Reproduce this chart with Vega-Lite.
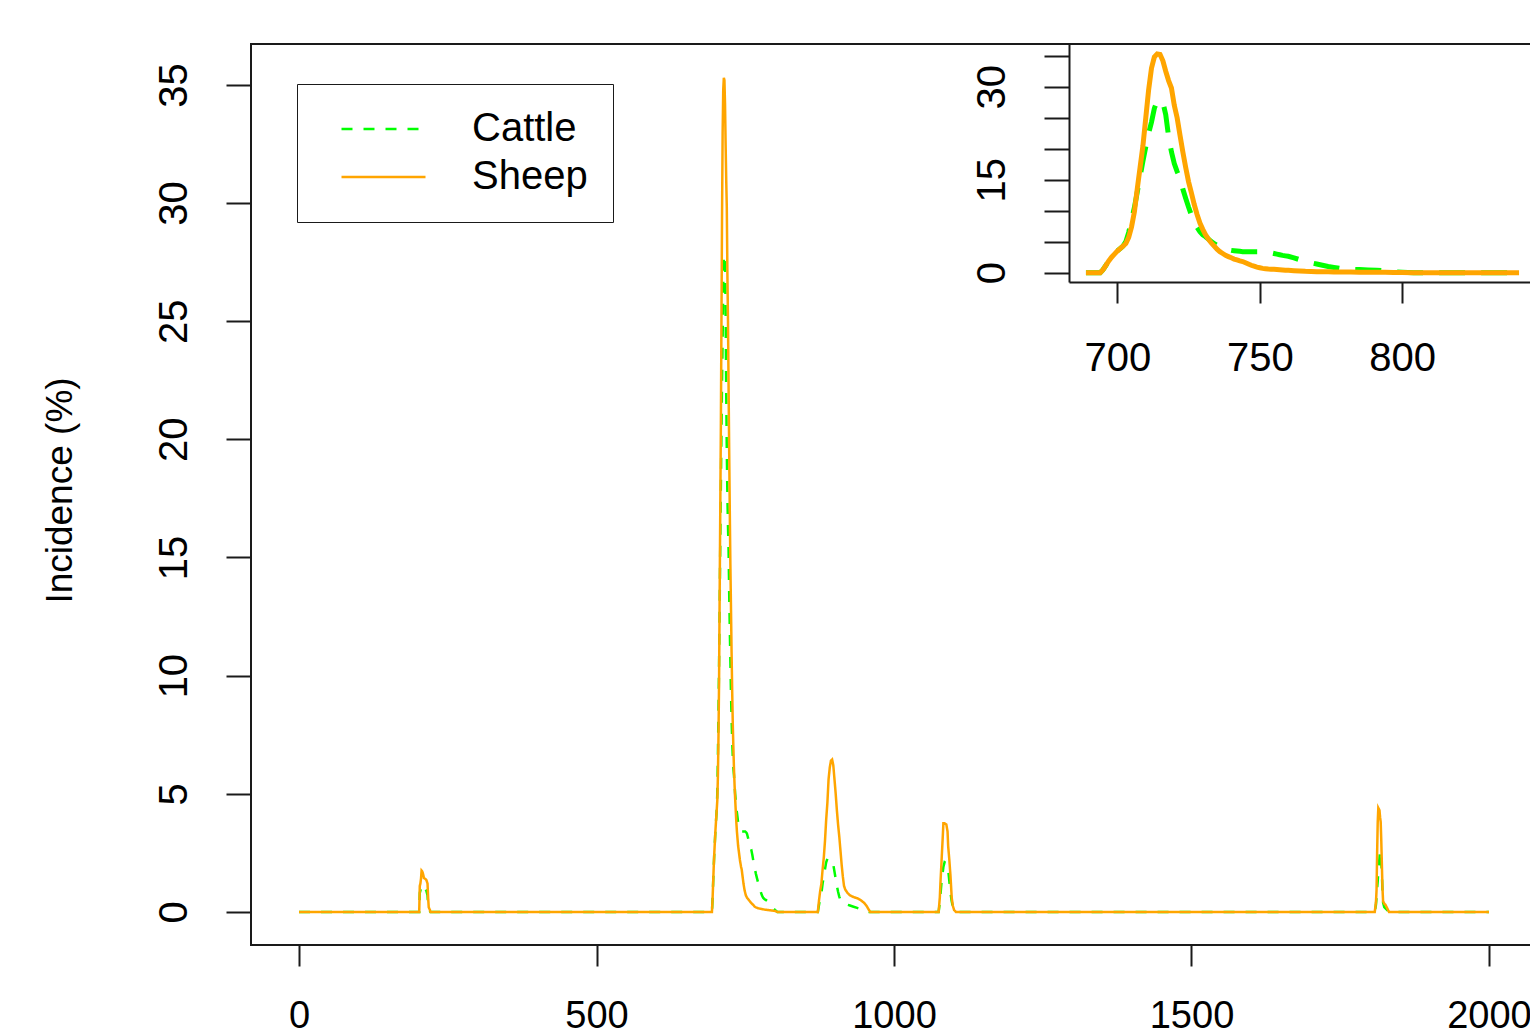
{
  "$schema": "https://vega.github.io/schema/vega-lite/v6.json",
  "width": 1286,
  "height": 901,
  "autosize": {"type": "none"},
  "padding": {"left": 251, "top": 44, "right": 0, "bottom": 88},
  "background": "white",
  "config": {
    "view": {"stroke": "#1a1a1a", "strokeWidth": 2},
    "font": "Liberation Sans",
    "axis": {"labelFont": "Liberation Sans", "titleFont": "Liberation Sans", "labelColor": "black", "titleColor": "black", "tickColor": "#1a1a1a", "tickWidth": 2, "grid": false, "domainColor": "#1a1a1a", "domainWidth": 2, "labelFontSize": 40, "labelOverlap": false, "labelFlush": false},
    "legend": {"labelFont": "Liberation Sans", "titleFont": "Liberation Sans"}
  },
  "data": {"values": [
    {"day": 0, "Cattle": 0, "Sheep": 0},
    {"day": 202, "Cattle": 0, "Sheep": 0},
    {"day": 203, "Cattle": 0.8, "Sheep": 1.1},
    {"day": 204, "Cattle": 0.9, "Sheep": 1.2},
    {"day": 205, "Cattle": 1.0, "Sheep": 1.4},
    {"day": 206, "Cattle": 1.15, "Sheep": 1.75},
    {"day": 207, "Cattle": 1.12, "Sheep": 1.72},
    {"day": 208, "Cattle": 1.1, "Sheep": 1.65},
    {"day": 209, "Cattle": 1.05, "Sheep": 1.55},
    {"day": 210, "Cattle": 1.0, "Sheep": 1.43},
    {"day": 212, "Cattle": 0.95, "Sheep": 1.4},
    {"day": 214, "Cattle": 0.9, "Sheep": 1.35},
    {"day": 216, "Cattle": 0.7, "Sheep": 1.2},
    {"day": 217, "Cattle": 0.3, "Sheep": 0.6},
    {"day": 218, "Cattle": 0.1, "Sheep": 0.2},
    {"day": 220, "Cattle": 0.03, "Sheep": 0.08},
    {"day": 221, "Cattle": 0, "Sheep": 0},
    {"day": 689, "Cattle": 0, "Sheep": 0},
    {"day": 694, "Cattle": 0, "Sheep": 0},
    {"day": 695, "Cattle": 0.5, "Sheep": 0.5},
    {"day": 696, "Cattle": 1.2, "Sheep": 1.2},
    {"day": 697, "Cattle": 1.9, "Sheep": 1.9},
    {"day": 698, "Cattle": 2.5, "Sheep": 2.5},
    {"day": 699, "Cattle": 3.0, "Sheep": 3.0},
    {"day": 700, "Cattle": 3.5, "Sheep": 3.5},
    {"day": 701, "Cattle": 3.9, "Sheep": 3.9},
    {"day": 702, "Cattle": 4.3, "Sheep": 4.3},
    {"day": 703, "Cattle": 5.0, "Sheep": 4.7},
    {"day": 704, "Cattle": 6.5, "Sheep": 5.7},
    {"day": 705, "Cattle": 8.5, "Sheep": 7.4},
    {"day": 706, "Cattle": 10.5, "Sheep": 9.8},
    {"day": 707, "Cattle": 13.0, "Sheep": 13.5},
    {"day": 708, "Cattle": 15.5, "Sheep": 17.0},
    {"day": 709, "Cattle": 18.0, "Sheep": 20.5},
    {"day": 710, "Cattle": 20.3, "Sheep": 25.0},
    {"day": 711, "Cattle": 22.5, "Sheep": 29.5},
    {"day": 712, "Cattle": 24.3, "Sheep": 33.0},
    {"day": 713, "Cattle": 26.5, "Sheep": 34.8},
    {"day": 714, "Cattle": 27.7, "Sheep": 35.3},
    {"day": 715, "Cattle": 27.8, "Sheep": 35.2},
    {"day": 716, "Cattle": 27.5, "Sheep": 34.2},
    {"day": 717, "Cattle": 25.5, "Sheep": 32.5},
    {"day": 718, "Cattle": 22.0, "Sheep": 31.0},
    {"day": 719, "Cattle": 19.5, "Sheep": 29.8},
    {"day": 720, "Cattle": 17.6, "Sheep": 27.0},
    {"day": 721, "Cattle": 16.3, "Sheep": 25.0},
    {"day": 722, "Cattle": 15.3, "Sheep": 22.2},
    {"day": 723, "Cattle": 13.5, "Sheep": 19.5},
    {"day": 724, "Cattle": 12.0, "Sheep": 17.0},
    {"day": 725, "Cattle": 10.6, "Sheep": 14.7},
    {"day": 726, "Cattle": 9.3, "Sheep": 12.9},
    {"day": 727, "Cattle": 8.2, "Sheep": 11.0},
    {"day": 728, "Cattle": 7.3, "Sheep": 9.4},
    {"day": 729, "Cattle": 6.6, "Sheep": 8.0},
    {"day": 730, "Cattle": 6.1, "Sheep": 7.0},
    {"day": 731, "Cattle": 5.8, "Sheep": 6.1},
    {"day": 732, "Cattle": 5.4, "Sheep": 5.4},
    {"day": 733, "Cattle": 5.0, "Sheep": 4.8},
    {"day": 734, "Cattle": 4.7, "Sheep": 4.3},
    {"day": 735, "Cattle": 4.4, "Sheep": 3.8},
    {"day": 736, "Cattle": 4.2, "Sheep": 3.4},
    {"day": 737, "Cattle": 4.0, "Sheep": 3.1},
    {"day": 738, "Cattle": 3.8, "Sheep": 2.8},
    {"day": 739, "Cattle": 3.7, "Sheep": 2.6},
    {"day": 740, "Cattle": 3.6, "Sheep": 2.4},
    {"day": 741, "Cattle": 3.55, "Sheep": 2.2},
    {"day": 742, "Cattle": 3.5, "Sheep": 2.05},
    {"day": 743, "Cattle": 3.45, "Sheep": 1.9},
    {"day": 744, "Cattle": 3.4, "Sheep": 1.8},
    {"day": 745, "Cattle": 3.4, "Sheep": 1.6},
    {"day": 746, "Cattle": 3.4, "Sheep": 1.4},
    {"day": 747, "Cattle": 3.4, "Sheep": 1.2},
    {"day": 748, "Cattle": 3.4, "Sheep": 1.05},
    {"day": 749, "Cattle": 3.4, "Sheep": 0.9},
    {"day": 750, "Cattle": 3.4, "Sheep": 0.8},
    {"day": 751, "Cattle": 3.38, "Sheep": 0.7},
    {"day": 752, "Cattle": 3.35, "Sheep": 0.65},
    {"day": 753, "Cattle": 3.3, "Sheep": 0.6},
    {"day": 754, "Cattle": 3.2, "Sheep": 0.57},
    {"day": 755, "Cattle": 3.1, "Sheep": 0.54},
    {"day": 756, "Cattle": 3.0, "Sheep": 0.5},
    {"day": 757, "Cattle": 2.9, "Sheep": 0.47},
    {"day": 758, "Cattle": 2.8, "Sheep": 0.44},
    {"day": 759, "Cattle": 2.72, "Sheep": 0.41},
    {"day": 760, "Cattle": 2.65, "Sheep": 0.38},
    {"day": 762, "Cattle": 2.4, "Sheep": 0.33},
    {"day": 764, "Cattle": 2.1, "Sheep": 0.28},
    {"day": 766, "Cattle": 1.85, "Sheep": 0.22},
    {"day": 768, "Cattle": 1.6, "Sheep": 0.19},
    {"day": 770, "Cattle": 1.4, "Sheep": 0.17},
    {"day": 772, "Cattle": 1.2, "Sheep": 0.15},
    {"day": 774, "Cattle": 1.0, "Sheep": 0.14},
    {"day": 776, "Cattle": 0.85, "Sheep": 0.13},
    {"day": 778, "Cattle": 0.7, "Sheep": 0.12},
    {"day": 780, "Cattle": 0.6, "Sheep": 0.11},
    {"day": 782, "Cattle": 0.55, "Sheep": 0.1},
    {"day": 785, "Cattle": 0.5, "Sheep": 0.09},
    {"day": 788, "Cattle": 0.45, "Sheep": 0.08},
    {"day": 791, "Cattle": 0.4, "Sheep": 0.07},
    {"day": 794, "Cattle": 0.3, "Sheep": 0.06},
    {"day": 797, "Cattle": 0.15, "Sheep": 0.05},
    {"day": 800, "Cattle": 0.08, "Sheep": 0.04},
    {"day": 804, "Cattle": 0, "Sheep": 0},
    {"day": 841, "Cattle": 0, "Sheep": 0},
    {"day": 872, "Cattle": 0, "Sheep": 0},
    {"day": 874, "Cattle": 0.3, "Sheep": 0.5},
    {"day": 876, "Cattle": 0.6, "Sheep": 0.9},
    {"day": 878, "Cattle": 0.8, "Sheep": 1.2},
    {"day": 880, "Cattle": 1.2, "Sheep": 1.8},
    {"day": 882, "Cattle": 1.5, "Sheep": 2.3},
    {"day": 884, "Cattle": 1.8, "Sheep": 3.0},
    {"day": 886, "Cattle": 2.1, "Sheep": 3.9},
    {"day": 888, "Cattle": 2.25, "Sheep": 4.6},
    {"day": 890, "Cattle": 2.25, "Sheep": 5.6},
    {"day": 892, "Cattle": 2.2, "Sheep": 6.1},
    {"day": 894, "Cattle": 2.2, "Sheep": 6.4},
    {"day": 896, "Cattle": 2.15, "Sheep": 6.45},
    {"day": 898, "Cattle": 2.0, "Sheep": 6.2},
    {"day": 900, "Cattle": 1.7, "Sheep": 5.6},
    {"day": 902, "Cattle": 1.4, "Sheep": 5.0},
    {"day": 904, "Cattle": 1.1, "Sheep": 4.3},
    {"day": 906, "Cattle": 0.85, "Sheep": 3.7},
    {"day": 908, "Cattle": 0.65, "Sheep": 3.2},
    {"day": 910, "Cattle": 0.5, "Sheep": 2.6},
    {"day": 912, "Cattle": 0.42, "Sheep": 2.0},
    {"day": 914, "Cattle": 0.38, "Sheep": 1.5},
    {"day": 916, "Cattle": 0.35, "Sheep": 1.1},
    {"day": 918, "Cattle": 0.32, "Sheep": 0.95},
    {"day": 922, "Cattle": 0.3, "Sheep": 0.8},
    {"day": 926, "Cattle": 0.27, "Sheep": 0.7},
    {"day": 932, "Cattle": 0.22, "Sheep": 0.63},
    {"day": 938, "Cattle": 0.17, "Sheep": 0.58},
    {"day": 944, "Cattle": 0.12, "Sheep": 0.5},
    {"day": 950, "Cattle": 0.08, "Sheep": 0.38},
    {"day": 954, "Cattle": 0.04, "Sheep": 0.25},
    {"day": 958, "Cattle": 0, "Sheep": 0.08},
    {"day": 960, "Cattle": 0, "Sheep": 0},
    {"day": 1075, "Cattle": 0, "Sheep": 0},
    {"day": 1077, "Cattle": 0.4, "Sheep": 0.6},
    {"day": 1078, "Cattle": 0.7, "Sheep": 1.2},
    {"day": 1080, "Cattle": 1.3, "Sheep": 2.2},
    {"day": 1082, "Cattle": 1.7, "Sheep": 3.2},
    {"day": 1083, "Cattle": 1.9, "Sheep": 3.75},
    {"day": 1085, "Cattle": 2.1, "Sheep": 3.75},
    {"day": 1088, "Cattle": 2.05, "Sheep": 3.7},
    {"day": 1090, "Cattle": 2.0, "Sheep": 3.4},
    {"day": 1091, "Cattle": 1.8, "Sheep": 2.8},
    {"day": 1093, "Cattle": 1.3, "Sheep": 2.2},
    {"day": 1095, "Cattle": 0.8, "Sheep": 1.5},
    {"day": 1097, "Cattle": 0.45, "Sheep": 0.6},
    {"day": 1099, "Cattle": 0.2, "Sheep": 0.25},
    {"day": 1101, "Cattle": 0.08, "Sheep": 0.08},
    {"day": 1104, "Cattle": 0, "Sheep": 0},
    {"day": 1808, "Cattle": 0, "Sheep": 0},
    {"day": 1810, "Cattle": 0.3, "Sheep": 0.4},
    {"day": 1811, "Cattle": 0.6, "Sheep": 0.9},
    {"day": 1812, "Cattle": 1.0, "Sheep": 2.5},
    {"day": 1813, "Cattle": 1.3, "Sheep": 3.8},
    {"day": 1814, "Cattle": 1.7, "Sheep": 4.4},
    {"day": 1816, "Cattle": 2.3, "Sheep": 4.3},
    {"day": 1817, "Cattle": 2.6, "Sheep": 4.0},
    {"day": 1818, "Cattle": 2.5, "Sheep": 3.8},
    {"day": 1819, "Cattle": 2.1, "Sheep": 3.0},
    {"day": 1820, "Cattle": 1.6, "Sheep": 2.0},
    {"day": 1821, "Cattle": 0.9, "Sheep": 1.0},
    {"day": 1822, "Cattle": 0.4, "Sheep": 0.45},
    {"day": 1824, "Cattle": 0.2, "Sheep": 0.35},
    {"day": 1826, "Cattle": 0.15, "Sheep": 0.3},
    {"day": 1829, "Cattle": 0.08, "Sheep": 0.15},
    {"day": 1832, "Cattle": 0, "Sheep": 0},
    {"day": 2000, "Cattle": 0, "Sheep": 0}
  ]},
  "transform": [{"fold": ["Cattle", "Sheep"], "as": ["species", "incidence"]}],
  "layer": [
    {
      "mark": {"type": "line", "strokeWidth": 2.5},
      "encoding": {
        "x": {"field": "day", "type": "quantitative",
              "scale": {"domain": [-80.7, 2080.7], "nice": false, "zero": false},
              "axis": {"orient": "bottom", "values": [0, 500, 1000, 1500, 2000], "tickSize": 21, "labelFontSize": 38, "labelPadding": 31, "domain": false, "title": null, "format": "d"}},
        "y": {"field": "incidence", "type": "quantitative",
              "scale": {"domain": [-1.4, 36.73], "nice": false, "zero": false},
              "axis": {"orient": "left", "values": [0, 5, 10, 15, 20, 25, 30, 35], "tickSize": 25, "labelAngle": 270, "labelAlign": "center", "labelBaseline": "alphabetic", "labelPadding": 40, "domain": false,
                       "title": "Incidence (%)", "titleFontSize": 37, "titleFontWeight": "normal", "titleAngle": 270, "titleAlign": "center", "titleBaseline": "alphabetic", "titleX": -180, "titleY": 446}},
        "color": {"field": "species", "type": "nominal",
                  "scale": {"domain": ["Cattle", "Sheep"], "range": ["#00ff00", "#ffa500"]},
                  "legend": {"title": null, "orient": "none", "legendX": 46, "legendY": 40, "strokeColor": "#1a1a1a", "padding": 25, "symbolType": "stroke", "symbolSize": 7056, "symbolStrokeWidth": 2.5, "symbolOffset": 18, "clipHeight": 40, "labelFontSize": 40, "labelColor": "black", "labelOffset": 45, "rowPadding": 8}},
        "strokeDash": {"field": "species", "type": "nominal",
                  "scale": {"domain": ["Cattle", "Sheep"], "range": [[11, 11], [1, 0]]},
                  "legend": {"title": null, "orient": "none", "legendX": 46, "legendY": 40, "strokeColor": "#1a1a1a", "padding": 25, "symbolType": "stroke", "symbolSize": 7056, "symbolStrokeWidth": 2.5, "symbolOffset": 18, "clipHeight": 40, "labelFontSize": 40, "labelColor": "black", "labelOffset": 45, "rowPadding": 8}}
      }
    },
    {
      "transform": [{"filter": "datum.day >= 689 && datum.day <= 841"}],
      "encoding": {
        "x": {"field": "day", "type": "quantitative",
              "scale": {"domain": [683.05, 847.3], "range": [818, 1286], "nice": false, "zero": false},
              "axis": {"orient": "bottom", "offset": -663, "values": [700, 750, 800], "tickSize": 21, "labelPadding": 35, "domain": true, "title": null, "format": "d"}},
        "y": {"field": "incidence", "type": "quantitative",
              "scale": {"domain": [-1.5, 36.9], "range": [238, 0], "nice": false, "zero": false},
              "axis": {"orient": "left", "offset": -818, "values": [0, 5, 10, 15, 20, 25, 30, 35], "labelExpr": "datum.value % 15 === 0 ? datum.label : ''", "tickSize": 25, "labelAngle": 270, "labelAlign": "center", "labelBaseline": "alphabetic", "labelPadding": 40, "domain": true, "title": null}}
      },
      "layer": [
        {"transform": [{"filter": "datum.species === 'Cattle'"}], "mark": {"type": "line", "stroke": "#00ff00", "strokeWidth": 5, "strokeDash": [26, 16]}},
        {"transform": [{"filter": "datum.species === 'Sheep'"}], "mark": {"type": "line", "stroke": "#ffa500", "strokeWidth": 5}}
      ]
    }
  ],
  "resolve": {"scale": {"x": "independent", "y": "independent"}, "axis": {"x": "independent", "y": "independent"}}
}
